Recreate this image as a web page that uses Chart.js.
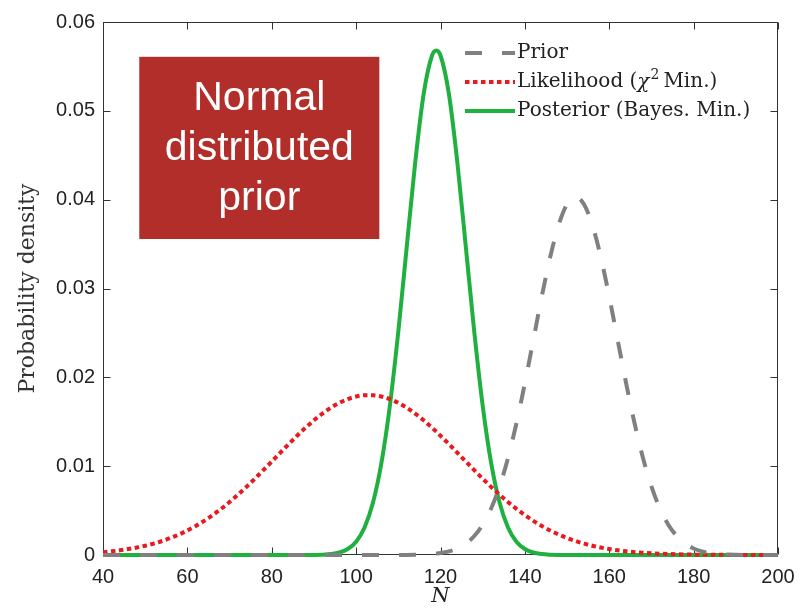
<!DOCTYPE html>
<html><head><meta charset="utf-8">
<script src="https://cdn.jsdelivr.net/npm/chart.js@4/dist/chart.umd.min.js"></script>
<style>html,body{margin:0;padding:0;background:#fff;}#wrap{width:800px;height:609px;position:relative}</style>
</head><body><div id="wrap"><canvas id="c"></canvas></div>
<script>
// ---- data ----
const nValues = [40,42,44,46,48,50,52,54,56,58,60,62,64,66,68,70,72,74,76,78,80,82,84,86,88,90,92,94,96,98,100,102,104,106,108,110,112,114,116,118,119,120,122,124,126,128,130,132,134,136,138,140,142,144,146,148,150,152,154,156,158,160,162,164,166,168,170,172,174,176,178,180,182,184,186,188,190,192,194,196,198,200];

const prior = [0,0,0,0,0,0,0,0,0,0,0,0,0,0,0,0,0,0,0,0,0,0,0,0,0,0,0,0,0,0,0,0,0,0.000001,0.000002,0.000005,0.000012,0.000026,0.000054,0.000111,0.000156,0.000217,0.000409,0.000738,0.00128,0.002135,0.003412,0.005235,0.007717,0.010917,0.014826,0.019332,0.024196,0.029072,0.033538,0.03714,0.039486,0.0403,0.039486,0.03714,0.033538,0.029072,0.024196,0.019332,0.014826,0.010917,0.007717,0.005235,0.003412,0.002135,0.00128,0.000738,0.000409,0.000217,0.000111,0.000054,0.000026,0.000012,0.000005,0.000002,0.000001,0];

const likelihood = [0.000321,0.000413,0.000527,0.000667,0.000837,0.001041,0.001286,0.001575,0.001915,0.002308,0.002757,0.003272,0.003847,0.004489,0.005195,0.005962,0.00679,0.00767,0.008591,0.009547,0.010525,0.011507,0.012479,0.013426,0.014326,0.015163,0.015921,0.01658,0.017127,0.017548,0.017836,0.017982,0.017982,0.017836,0.017548,0.017127,0.01658,0.015921,0.015163,0.014326,0.013883,0.013426,0.012479,0.011507,0.010525,0.009547,0.008591,0.00767,0.00679,0.005962,0.005195,0.004489,0.003847,0.003272,0.002757,0.002308,0.001915,0.001575,0.001286,0.001041,0.000837,0.000667,0.000527,0.000413,0.000321,0.000248,0.00019,0.000144,0.000108,0.000081,0.00006,0.000044,0.000032,0.000023,0.000017,0.000012,0.000008,0.000006,0.000004,0.000003,0.000002,0.000001];

const posterior = [0,0,0,0,0,0,0,0,0,0,0,0,0,0,0,0,0,0,0,0,0,0,0,0,0.000004,0.000012,0.000037,0.000106,0.000277,0.000672,0.001503,0.003103,0.005907,0.010377,0.016813,0.025145,0.034693,0.044168,0.051887,0.056232,0.0568,0.056232,0.051887,0.044168,0.034693,0.025145,0.016813,0.010377,0.005907,0.003103,0.001503,0.000672,0.000277,0.000106,0.000037,0.000012,0.000004,0,0,0,0,0,0,0,0,0,0,0,0,0,0,0,0,0,0,0,0,0,0,0,0,0];

const xTicks = [40,60,80,100,120,140,160,180,200];
const yTicks = [0,0.01,0.02,0.03,0.04,0.05,0.06];
const seriesLabels = ['Prior','Likelihood (χ2 Min.)','Posterior (Bayes. Min.)'];
const boxLines = ['Normal','distributed','prior'];
const boxRange = {x0:48.6, x1:105.5, y0:0.03557, y1:0.05608};

const pts = arr => nValues.map((n,i)=>({x:n,y:arr[i]}));
const SERIF = '"DejaVu Serif", "Liberation Serif", serif';
const SANS = '"Liberation Sans", Arial, sans-serif';

const frame = {
  id:'frame',
  beforeDatasetsDraw(chart){
    const {ctx, chartArea:a, scales:{x,y}} = chart;
    ctx.save();
    ctx.strokeStyle='#333'; ctx.lineWidth=1;
    const L=Math.round(a.left)+0.5, R=Math.round(a.right)-0.5, T=Math.round(a.top)+0.5, B=Math.round(a.bottom)-0.5;
    ctx.strokeRect(L,T,R-L,B-T);
    ctx.beginPath();
    xTicks.forEach(v=>{const p=Math.round(x.getPixelForValue(v))+0.5; ctx.moveTo(p,B); ctx.lineTo(p,B-7); ctx.moveTo(p,T); ctx.lineTo(p,T+7);});
    yTicks.forEach(v=>{const p=Math.round(y.getPixelForValue(v))+0.5; ctx.moveTo(L,p); ctx.lineTo(L+7,p); ctx.moveTo(R,p); ctx.lineTo(R-7,p);});
    ctx.stroke();
    ctx.restore();
  },
  afterDatasetsDraw(chart){
    const {ctx, scales:{x,y}} = chart;
    ctx.save();
    // annotation box
    const bx0=x.getPixelForValue(boxRange.x0), bx1=x.getPixelForValue(boxRange.x1);
    const by0=y.getPixelForValue(boxRange.y1), by1=y.getPixelForValue(boxRange.y0);
    ctx.fillStyle='#b22e2a';
    ctx.fillRect(bx0,by0,bx1-bx0,by1-by0);
    ctx.fillStyle='#ffffff';
    ctx.font='41px '+SANS;
    ctx.textAlign='center'; ctx.textBaseline='middle';
    const cx=(bx0+bx1)/2, cy=(by0+by1)/2;
    boxLines.forEach((t,i)=>ctx.fillText(t,cx,cy+(i-1)*50+1));
    // legend
    const rows=[53,82,111];
    const ds=chart.data.datasets;
    ds.forEach((d,i)=>{
      ctx.beginPath();
      ctx.strokeStyle=d.borderColor; ctx.lineWidth=d.borderWidth;
      ctx.setLineDash(d.borderDash||[]); ctx.lineCap='butt';
      ctx.moveTo(465,rows[i]); ctx.lineTo(515,rows[i]); ctx.stroke();
    });
    ctx.setLineDash([]);
    ctx.fillStyle='#222'; ctx.textAlign='left'; ctx.textBaseline='middle';
    const fs=20;
    ctx.font=fs+'px '+SERIF;
    ctx.fillText(seriesLabels[0],517,rows[0]);
    let xx=517;
    const lab=seriesLabels[1];
    const p1=lab.slice(0,lab.indexOf('χ')), p2=lab.slice(lab.indexOf('χ')+2);
    ctx.font=fs+'px '+SERIF; ctx.fillText(p1,xx,rows[1]); xx+=ctx.measureText(p1).width;
    ctx.font='italic '+fs+'px '+SERIF; ctx.fillText('χ',xx,rows[1]+1); xx+=ctx.measureText('χ').width+1;
    ctx.font=Math.round(fs*0.7)+'px '+SERIF; ctx.fillText('2',xx,rows[1]-7); xx+=ctx.measureText('2').width+4;
    ctx.font=fs+'px '+SERIF; ctx.fillText(p2.trim(),xx,rows[1]);
    ctx.fillText(seriesLabels[2],517,rows[2]);
    ctx.restore();
  }
};

new Chart(document.getElementById('c'),{
  type:'line',
  data:{datasets:[
    {label:seriesLabels[0],data:pts(prior),borderColor:'#808080',borderWidth:4,borderDash:[17,20],pointRadius:0,cubicInterpolationMode:'monotone',clip:false,fill:false},
    {label:seriesLabels[1],data:pts(likelihood),borderColor:'#e8191f',borderWidth:4,borderDash:[4.5,3.5],pointRadius:0,cubicInterpolationMode:'monotone',clip:false,fill:false},
    {label:seriesLabels[2],data:pts(posterior),borderColor:'#20b040',borderWidth:4,pointRadius:0,cubicInterpolationMode:'monotone',clip:false,fill:false}
  ]},
  options:{
    responsive:true, maintainAspectRatio:false, animation:false,
    layout:{padding:{top:22,right:22,left:0,bottom:0}},
    plugins:{legend:{display:false},tooltip:{enabled:false}},
    scales:{
      x:{type:'linear',min:40,max:200,
        afterBuildTicks(s){s.ticks=xTicks.map(v=>({value:v}));},
        afterFit(s){s.height=54; s.paddingLeft=0; s.paddingRight=0;},
        grid:{display:false,drawTicks:false},border:{display:false},
        ticks:{padding:10,color:'#222',font:{family:SANS,size:20},maxRotation:0,autoSkip:false,callback:v=>String(v)},
        title:{display:true,text:'N',color:'#222',font:{family:SERIF,size:21,style:'italic'},padding:{top:0,bottom:0}}
      },
      y:{type:'linear',min:0,max:0.06,
        afterBuildTicks(s){s.ticks=yTicks.map(v=>({value:v}));},
        afterFit(s){s.width=103; s.paddingTop=0; s.paddingBottom=0;},
        grid:{display:false,drawTicks:false},border:{display:false},
        ticks:{padding:8,color:'#222',font:{family:SANS,size:20},autoSkip:false,callback:v=>v===0?'0':v.toFixed(2)},
        title:{display:true,text:'Probability density',color:'#333',font:{family:SERIF,size:22},padding:{top:15,bottom:0}}
      }
    }
  },
  plugins:[frame]
});
</script></body></html>
